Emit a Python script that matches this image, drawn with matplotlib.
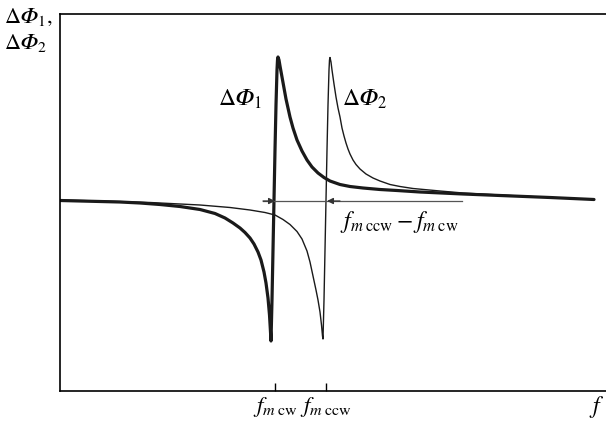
import matplotlib
matplotlib.use("Agg")
import matplotlib.pyplot as plt

plt.rcParams["font.family"] = ["Liberation Serif", "DejaVu Serif"]
plt.rcParams["mathtext.fontset"] = "stix"

# Phase response traces (frequency offset, phase offset) in arbitrary units
f1 = [0, 20, 40, 60, 80, 100, 120, 140, 155, 165, 173, 180, 185, 190, 194, 198,
      201, 204, 206, 208, 209.5, 210.5, 211, 212, 213, 214, 215, 216, 217, 217.5,
      218, 219, 220, 222, 224, 226, 228, 230, 233, 237, 242, 247, 252, 258, 264,
      270, 280, 290, 303, 320, 337, 360, 403, 440, 490, 534]
phi1 = [0.5, 0, -0.5, -1, -2, -3.5, -5.5, -8.5, -12.5, -17, -22, -27, -31.5, -37,
        -43, -51, -59, -71, -82, -97, -114, -131, -140, -99, -49, 1, 51, 96, 131,
        141, 144, 141, 135, 124, 113, 102, 93, 84, 73, 61, 50, 41, 34, 28, 23.5,
        20, 16.5, 14.5, 13, 11.5, 10.5, 9, 7, 5.5, 3.5, 1.5]

f2 = [0, 40, 90, 140, 170, 190, 205, 215, 223, 230, 237, 242, 247, 250, 253, 256,
      258, 260, 261.5, 262.5, 263, 264, 265, 266, 267, 268, 269, 269.5, 270, 271,
      272, 274, 276, 278, 280, 282, 284, 286, 288, 290, 293, 296, 300, 306, 313,
      320, 330, 340, 353, 380, 403, 440, 490, 534]
phi2 = [1, 0, -1.5, -4, -6.5, -9, -11.5, -14, -18.5, -23.5, -30.5, -38, -50, -61,
        -75, -89, -99, -111, -124, -135, -138, -99, -49, 1, 51, 96, 131, 141, 143.5,
        139, 131, 117, 104, 93, 84, 73, 65, 58, 52, 47, 41, 36.5, 32, 27, 23,
        20, 16.5, 14.5, 12.5, 10, 8, 6, 3.5, 1.5]

# resonance frequencies of the two directions
f_cw = 215
f_ccw = 266

fig = plt.figure(figsize=(6.06, 4.23), dpi=100)
ax = fig.add_axes([60 / 606, 32 / 423, 546 / 606, 377 / 423])
ax.set_xlim(0, 546)
ax.set_ylim(-190, 187)

ax.plot(f1, phi1, color="#1a1a1a", lw=2.3, solid_joinstyle="round",
        solid_capstyle="round")
ax.plot(f2, phi2, color="#1a1a1a", lw=1.0, solid_joinstyle="round",
        solid_capstyle="round")

for s in ["left", "top", "bottom"]:
    ax.spines[s].set_linewidth(1.2)
ax.spines["right"].set_visible(False)

ax.set_yticks([])
ax.set_xticks([f_cw, f_ccw])
ax.set_xticklabels([r"$f_{m\;\mathrm{cw}}$", r"$f_{m\;\mathrm{ccw}}$"], fontsize=16.5)
ax.tick_params(axis="x", direction="in", length=6, width=1, pad=3)

# separation of the two resonances
ax.plot([f_cw - 12, 402], [0, 0], color="#555555", lw=0.9)
ax.annotate("", xy=(f_cw, 0), xytext=(f_cw - 12, 0),
            arrowprops=dict(arrowstyle="-|>", color="#333333", lw=0.9,
                            mutation_scale=9, shrinkA=0, shrinkB=0))
ax.annotate("", xy=(f_ccw + 1, 0), xytext=(f_ccw + 14, 0),
            arrowprops=dict(arrowstyle="-|>", color="#333333", lw=0.9,
                            mutation_scale=9, shrinkA=0, shrinkB=0))
ax.text(280, -21, r"$f_{m\;\mathrm{ccw}} - f_{m\;\mathrm{cw}}$", fontsize=17,
        ha="left", va="center")

ax.text(158, 102, r"$\Delta𝛷_1$", fontsize=17, ha="left", va="center")
ax.text(282, 102, r"$\Delta𝛷_2$", fontsize=17, ha="left", va="center")

fig.text(4 / 606, 1 - 17 / 423, r"$\Delta𝛷_1,$", fontsize=16,
         ha="left", va="center")
fig.text(4 / 606, 1 - 43 / 423, r"$\Delta𝛷_2$", fontsize=16,
         ha="left", va="center")
fig.text(597 / 606, 1 - 407 / 423, r"$f$", fontsize=17, ha="center", va="center")

fig.savefig("out.png", dpi=100)
